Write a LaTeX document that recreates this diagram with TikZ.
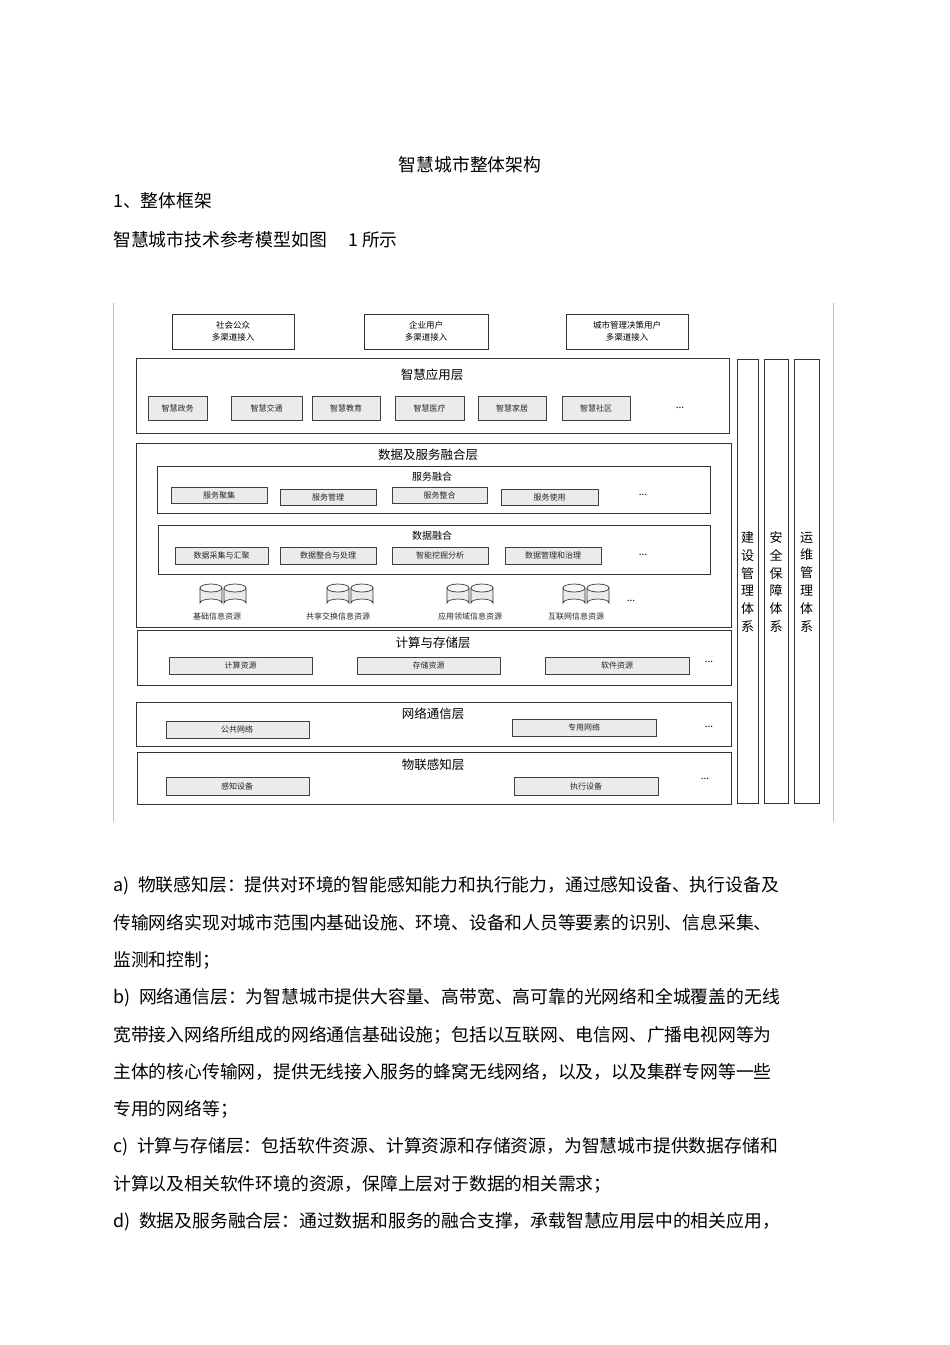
\documentclass[tikz,border=0pt]{standalone}
\usepackage{fontspec}
\setmainfont{Noto Sans CJK SC}
\newfontfamily\cjk{Noto Sans CJK SC}
\begin{document}
\begin{tikzpicture}[x=1pt,y=-1pt,
  lay/.style={draw=black!80,line width=0.9pt},
  usr/.style={draw=black!80,line width=0.9pt},
  sb/.style={draw=black!75,fill=black!8,line width=0.8pt},
  st/.style={font=\fontsize{8}{9}\selectfont,text=black!85},
  ttl/.style={font=\fontsize{12.5}{13}\selectfont},
  sub/.style={font=\fontsize{10}{11}\selectfont},
  dots/.style={font=\fontsize{10}{10}\selectfont},
  body/.style={anchor=west,font=\fontsize{17.8}{18}\selectfont,inner sep=0pt}]
\useasboundingbox (0,0) rectangle (950,1345);
\fill[white] (0,0) rectangle (950,1345);
\node[font=\fontsize{17.8}{18}\selectfont] (t) at (470,165) {智慧城市整体架构};
\node[body] (h1) at (113,201) {1、整体框架};
\node[body] (h2) at (113,240) {智慧城市技术参考模型如图\hspace{1.2em}1 所示};
% frame
\draw[black!25] (113,303) -- (113,822);
\draw[black!25] (833,303) -- (833,822);
% users
\foreach \n/\a/\b/\t in {u1/172/294/社会公众, u2/364/488/企业用户, u3/566/688/城市管理决策用户}{
  \draw[usr] (\a,314) rectangle (\b,349);
  \node[font=\fontsize{8.5}{12}\selectfont,align=center] (\n) at ({(\a+\b)/2},331.5) {\t\\多渠道接入};
}
% app layer
\draw[lay] (136,358) rectangle (729,433);
\node[ttl] (app) at (432,375) {智慧应用层};
\foreach \n/\a/\b/\t in {a1/148/207/智慧政务, a2/231/302/智慧交通, a3/312/380/智慧教育, a4/395/464/智慧医疗, a5/478/546/智慧家居, a6/562/630/智慧社区}{
  \draw[sb] (\a,396) rectangle (\b,420);
  \node[st] (\n) at ({(\a+\b)/2},408) {\t};
}
\node[dots] (ad) at (680,408) {...};
% data layer
\draw[lay] (136,443) rectangle (731,627);
\node[ttl] (dl) at (428,455) {数据及服务融合层};
\draw[lay,line width=0.7pt] (157,466) rectangle (710,513);
\node[sub] (sf) at (432,477) {服务融合};
\foreach \n/\a/\b/\y/\t in {s1/171/267/487/服务聚集, s2/280/376/489/服务管理, s3/392/487/487/服务整合, s4/501/598/489/服务使用}{
  \draw[sb] (\a,\y) rectangle (\b,\y+16);
  \node[st] (\n) at ({(\a+\b)/2},\y+8) {\t};
}
\node[dots] (sd) at (643,495) {...};
\draw[lay,line width=0.7pt] (158,525) rectangle (710,574);
\node[sub] (df) at (432,536) {数据融合};
\foreach \n/\a/\b/\t in {d1/175/268/数据采集与汇聚, d2/280/376/数据整合与处理, d3/392/488/智能挖掘分析, d4/505/601/数据管理和治理}{
  \draw[sb] (\a,547) rectangle (\b,564);
  \node[st] (\n) at ({(\a+\b)/2},555.5) {\t};
}
\node[dots] (dd) at (643,555) {...};
\foreach \cx/\n/\t/\lx in {223/r1/基础信息资源/217, 350/r2/共享交换信息资源/338, 470/r3/应用领域信息资源/470, 586/r4/互联网信息资源/576}{
  \foreach \dx in {-12,12}{
    \begin{scope}[shift={(\cx+\dx,0)}]
    \draw[black!80,fill=black!8,line width=0.7pt] (-11,588) -- (-11,603) arc[start angle=180,end angle=360,x radius=11,y radius=4] -- (11,588);
    \draw[black!80,fill=black!3,line width=0.7pt] (0,588) ellipse[x radius=11,y radius=4];
    \end{scope}
  }
  \node[st] (\n) at (\lx,616) {\t};
}
\node[dots] (rd) at (631,601) {...};
% compute
\draw[lay] (137,630) rectangle (731,685);
\node[ttl] (cl) at (433,643) {计算与存储层};
\foreach \n/\a/\b/\t in {c1/169/312/计算资源, c2/357/500/存储资源, c3/545/689/软件资源}{
  \draw[sb] (\a,657) rectangle (\b,674);
  \node[st] (\n) at ({(\a+\b)/2},665.5) {\t};
}
\node[dots] (cd) at (709,662) {...};
% network
\draw[lay] (136,702) rectangle (731,746);
\node[ttl] (nl) at (433,714) {网络通信层};
\draw[sb] (166,721) rectangle (309,738); \node[st] (n1) at (237,729.5) {公共网络};
\draw[sb] (512,719) rectangle (656,736); \node[st] (n2) at (584,727.5) {专用网络};
\node[dots] (nd) at (709,727) {...};
% iot
\draw[lay] (137,752) rectangle (731,804);
\node[ttl] (il) at (433,765) {物联感知层};
\draw[sb] (166,777) rectangle (309,795); \node[st] (i1) at (237,786) {感知设备};
\draw[sb] (514,777) rectangle (658,795); \node[st] (i2) at (586,786) {执行设备};
\node[dots] (id) at (705,779) {...};
% side columns
\foreach \n/\a/\b/\t in {v1/737/758/{建\\设\\管\\理\\体\\系}, v2/764/788/{安\\全\\保\\障\\体\\系}, v3/794/819/{运\\维\\管\\理\\体\\系}}{
  \draw[black!80,line width=0.8pt] (\a,359) rectangle (\b,803);
  \node[font=\fontsize{13}{17.8}\selectfont,align=center] (\n) at ({(\a+\b)/2},582) {\t};
}
% body text
\node[body] (b1) at (113,886) {a)\hspace{0.5em}物联感知层：提供对环境的智能感知能力和执行能力，通过感知设备、执行设备及};
\node[body] (b2) at (113,923) {传输网络实现对城市范围内基础设施、环境、设备和人员等要素的识别、信息采集、};
\node[body] (b3) at (113,960) {监测和控制；};
\node[body] (b4) at (113,998) {b)\hspace{0.5em}网络通信层：为智慧城市提供大容量、高带宽、高可靠的光网络和全城覆盖的无线};
\node[body] (b5) at (113,1035) {宽带接入网络所组成的网络通信基础设施；包括以互联网、电信网、广播电视网等为};
\node[body] (b6) at (113,1072) {主体的核心传输网，提供无线接入服务的蜂窝无线网络，以及，以及集群专网等一些};
\node[body] (b7) at (113,1109) {专用的网络等；};
\node[body] (b8) at (113,1147) {c)\hspace{0.5em}计算与存储层：包括软件资源、计算资源和存储资源，为智慧城市提供数据存储和};
\node[body] (b9) at (113,1184) {计算以及相关软件环境的资源，保障上层对于数据的相关需求；};
\node[body] (b10) at (113,1222) {d)\hspace{0.5em}数据及服务融合层：通过数据和服务的融合支撑，承载智慧应用层中的相关应用，};
\end{tikzpicture}
\end{document}
